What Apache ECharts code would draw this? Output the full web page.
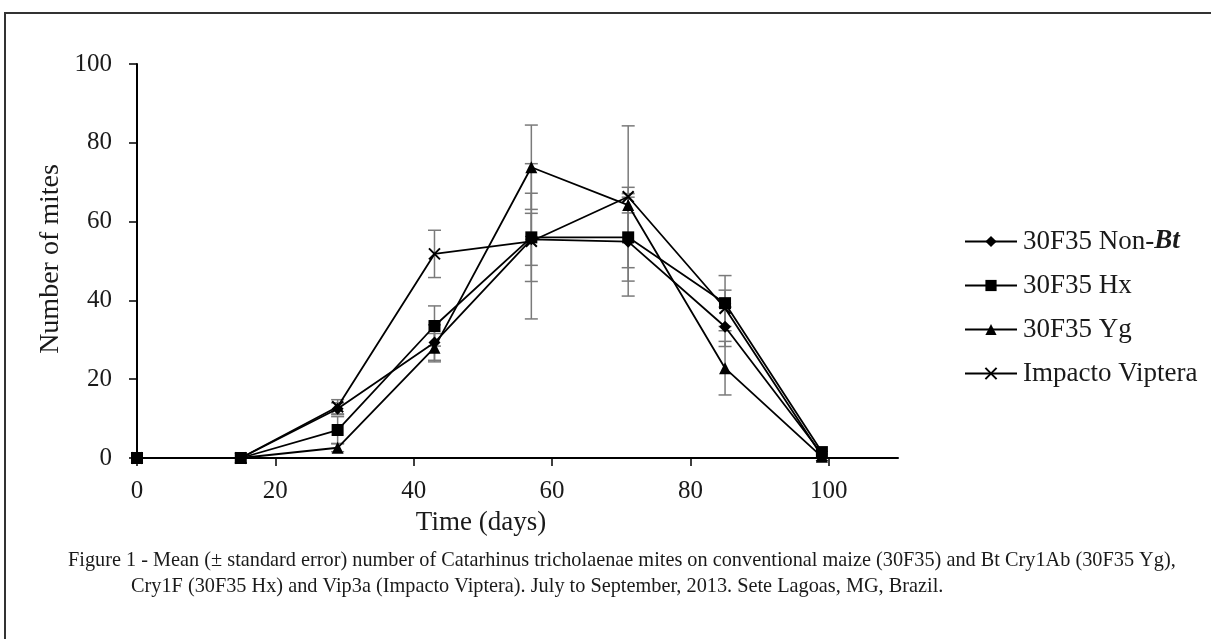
<!DOCTYPE html>
<html>
<head>
<meta charset="utf-8">
<script src="https://cdn.jsdelivr.net/npm/echarts@6/dist/echarts.min.js"></script>
<style>
html,body{margin:0;padding:0;background:#fff;}
#chart{width:1211px;height:639px;}
</style>
</head>
<body>
<div id="chart"></div>
<script>
// ---- data ----
const days = [0, 15, 29, 43, 57, 71, 85, 99];
const seriesNames = ['30F35 Non-Bt', '30F35 Hx', '30F35 Yg', 'Impacto Viptera'];
const nonBt   = [0, 0, 12.5, 29.3, 55.5, 54.9, 33.3, 1.0];
const hx      = [0, 0, 7.1, 33.5, 56.0, 56.0, 39.3, 1.5];
const yg      = [0, 0, 2.6, 28.0, 73.8, 64.2, 22.8, 0.3];
const impacto = [0, 0, 13.0, 51.8, 55.0, 66.3, 38.0, 0.5];
const seNonBt   = [0, 0, 1.5, 4.5, 6.6, 13.8, 5.0, 0];
const seHx      = [0, 0, 3.4, 5.1, 11.2, 11.1, 7.0, 0];
const seYg      = [0, 0, 1.0, 3.6, 10.7, 2.0, 6.8, 0];
const seImpacto = [0, 0, 1.8, 6.0, 19.7, 18.0, 4.6, 0];
const xTicks = [0, 20, 40, 60, 80, 100];
const yTicks = [0, 20, 40, 60, 80, 100];
const xTitle = 'Time (days)';
const yTitle = 'Number of mites';
const captionLine1 = 'Figure 1 - Mean (\u00b1 standard error) number of Catarhinus tricholaenae mites on conventional maize (30F35) and Bt Cry1Ab (30F35 Yg),';
const captionLine2 = 'Cry1F (30F35 Hx) and Vip3a (Impacto Viptera). July to September, 2013. Sete Lagoas, MG, Brazil.';

const FONT = '"Liberation Serif", "Times New Roman", serif';
const TXT = '#1a1a1a';

const means = [nonBt, hx, yg, impacto];
const ses = [seNonBt, seHx, seYg, seImpacto];
const symbols = ['diamond', 'rect', 'triangle', 'path://M0,0L10,10M10,0L0,10'];
const symSizes = [12, 12, 12, 11];

function pairs(arr) { return days.map((d, i) => [d, arr[i]]); }
function errData(m, s) { return days.map((d, i) => [d, m[i] - s[i], m[i] + s[i]]); }

const series = [];
means.forEach((m, k) => {
  series.push({
    type: 'custom',
    name: seriesNames[k] + ' SE',
    z: 1,
    silent: true,
    clip: false,
    data: errData(m, ses[k]),
    renderItem: function (params, api) {
      const x = api.value(0), lo = api.value(1), hi = api.value(2);
      if (hi - lo <= 0) return null;
      const pLo = api.coord([x, lo]);
      const pHi = api.coord([x, hi]);
      const w = 6.5;
      const st = { stroke: '#7a7a7a', lineWidth: 1.5 };
      return {
        type: 'group',
        children: [
          { type: 'line', shape: { x1: pLo[0], y1: pLo[1], x2: pHi[0], y2: pHi[1] }, style: st },
          { type: 'line', shape: { x1: pLo[0] - w, y1: pLo[1], x2: pLo[0] + w, y2: pLo[1] }, style: st },
          { type: 'line', shape: { x1: pHi[0] - w, y1: pHi[1], x2: pHi[0] + w, y2: pHi[1] }, style: st }
        ]
      };
    }
  });
});
means.forEach((m, k) => {
  const isX = k === 3;
  series.push({
    type: 'line',
    name: seriesNames[k],
    z: 3,
    clip: false,
    data: pairs(m),
    symbol: symbols[k],
    symbolSize: symSizes[k],
    showAllSymbol: true,
    animation: false,
    lineStyle: { color: '#000', width: 1.8 },
    itemStyle: isX ? { color: '#000', borderColor: '#000', borderWidth: 2 } : { color: '#000', borderWidth: 0 }
  });
});

const chart = echarts.init(document.getElementById('chart'), null, { renderer: 'canvas' });
chart.setOption({
  animation: false,
  backgroundColor: '#fff',
  grid: { left: 137, top: 64, right: 313, bottom: 181, containLabel: false },
  xAxis: {
    type: 'value', min: 0, max: 110, interval: 20,
    axisLine: { show: true, lineStyle: { color: '#000', width: 2 } },
    axisTick: { show: true, inside: false, length: 8, lineStyle: { color: '#000', width: 1.5 }, customValues: xTicks },
    axisLabel: { color: TXT, fontFamily: FONT, fontSize: 25, margin: 21, customValues: xTicks },
    splitLine: { show: false }
  },
  yAxis: {
    type: 'value', min: 0, max: 100, interval: 20,
    axisLine: { show: true, lineStyle: { color: '#000', width: 2 } },
    axisTick: { show: true, inside: false, length: 8, lineStyle: { color: '#000', width: 1.5 }, customValues: yTicks },
    axisLabel: { color: TXT, fontFamily: FONT, fontSize: 25, margin: 25, customValues: yTicks },
    splitLine: { show: false }
  },
  legend: {
    orient: 'vertical',
    left: 959, top: 223,
    itemWidth: 52, itemHeight: 14, itemGap: 17,
    data: seriesNames,
    selectedMode: false,
    textStyle: {
      color: TXT, fontFamily: FONT, fontSize: 27, padding: [0, 0, 0, 1],
      rich: { b: { fontWeight: 'bold', fontStyle: 'italic', fontFamily: FONT, fontSize: 27, color: TXT } }
    },
    formatter: function (name) {
      return name === '30F35 Non-Bt' ? '30F35 Non-{b|Bt}' : name;
    }
  },
  graphic: [
    { type: 'rect', silent: true, shape: { x: 5, y: 13, width: 1400, height: 900 }, style: { fill: 'none', stroke: '#333', lineWidth: 2 } },
    { type: 'text', silent: true, x: 481, y: 523, style: { text: xTitle, fill: TXT, font: '27px ' + FONT, align: 'center', verticalAlign: 'middle' } },
    { type: 'text', silent: true, x: 51, y: 259, rotation: Math.PI / 2, style: { text: yTitle, fill: TXT, font: '28px ' + FONT, align: 'center', verticalAlign: 'middle' } },
    { type: 'text', silent: true, x: 68, y: 561, style: { text: captionLine1, fill: TXT, font: '20.3px ' + FONT, align: 'left', verticalAlign: 'middle' } },
    { type: 'text', silent: true, x: 131, y: 587, style: { text: captionLine2, fill: TXT, font: '20.3px ' + FONT, align: 'left', verticalAlign: 'middle' } }
  ],
  series: series
});
</script>
</body>
</html>
